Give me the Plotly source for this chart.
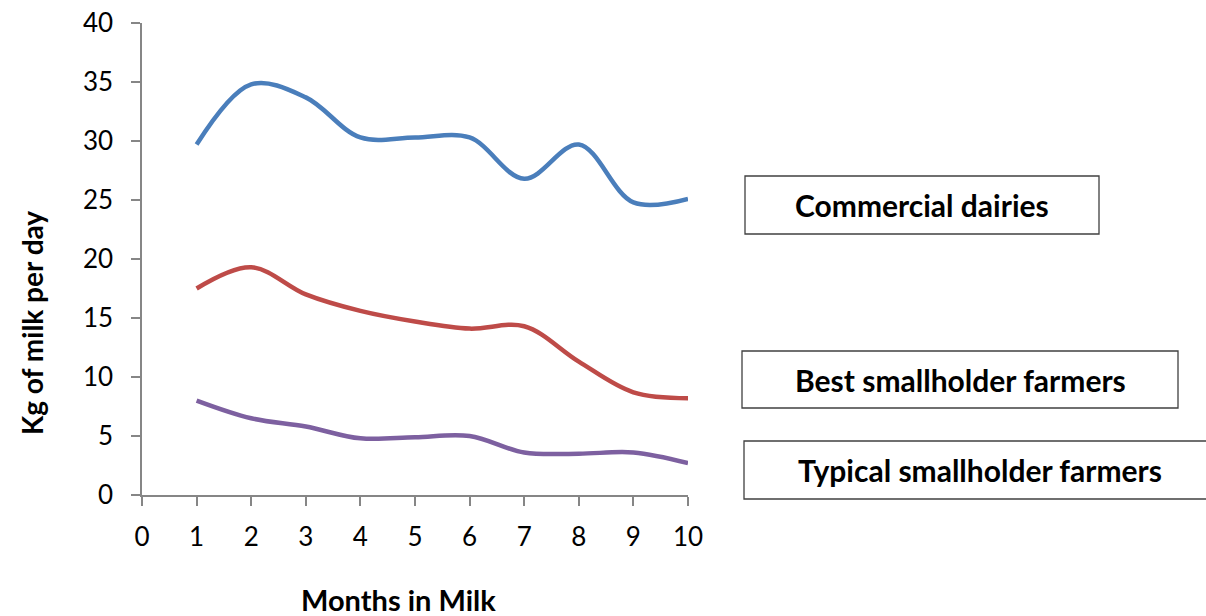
import plotly.graph_objects as go

# Months in milk
months = [1, 2, 3, 4, 5, 6, 7, 8, 9, 10]

# Daily milk yield (kg) per herd type
commercial = [29.7, 34.8, 33.7, 30.3, 30.3, 30.3, 26.8, 29.7, 24.8, 25.1]
best_small = [17.5, 19.3, 17.0, 15.6, 14.7, 14.1, 14.3, 11.3, 8.7, 8.2]
typical_small = [8.0, 6.5, 5.8, 4.8, 4.9, 5.0, 3.6, 3.5, 3.6, 2.7]

series_names = ["Commercial dairies", "Best smallholder farmers", "Typical smallholder farmers"]
series_colors = ["#4A7EBB", "#BE4B48", "#7D60A0"]

x_ticks = list(range(0, 11))
y_ticks = list(range(0, 41, 5))

FONT = "Lato"
AXIS_GREY = "#868686"

fig = go.Figure()
for vals, name, col in zip([commercial, best_small, typical_small], series_names, series_colors):
    fig.add_trace(go.Scatter(
        x=months, y=vals, name=name, mode="lines",
        line=dict(color=col, width=4.5, shape="spline", smoothing=1.0),
        showlegend=False,
    ))

# Plot area geometry in pixels (used to place the label boxes in paper units)
L, R, T, B = 142, 688, 23, 495
W, H = 1206, 616


def px_x(p):
    return (p - L) / (R - L)


def px_y(p):
    return (B - p) / (B - T)


# Label boxes to the right of the plot: (left, right, top, bottom, text centre x)
boxes = [
    (745, 1099, 176, 234, 922),
    (742, 1178, 351, 408, 960),
    (744, 1215, 441, 499, 980),
]
shapes = []
annotations = []
for (x0, x1, y0, y1, cx), name in zip(boxes, series_names):
    shapes.append(dict(
        type="rect", xref="paper", yref="paper",
        x0=px_x(x0), x1=px_x(x1), y0=px_y(y1), y1=px_y(y0),
        line=dict(color="#404040", width=1.3), fillcolor="rgba(0,0,0,0)",
    ))
    annotations.append(dict(
        xref="paper", yref="paper", x=px_x(cx), y=px_y((y0 + y1) / 2),
        text="<b>" + name + "</b>", showarrow=False,
        xanchor="center", yanchor="middle",
        font=dict(family=FONT, size=30, color="black"),
    ))

# Axis titles
annotations.append(dict(
    xref="paper", yref="paper", x=px_x(398), y=px_y(599),
    text="<b>Months in Milk</b>", showarrow=False,
    xanchor="center", yanchor="middle",
    font=dict(family=FONT, size=29, color="black"),
))
annotations.append(dict(
    xref="paper", yref="paper", x=px_x(32), y=px_y(323),
    text="<b>Kg of milk per day</b>", showarrow=False, textangle=-90,
    xanchor="center", yanchor="middle",
    font=dict(family=FONT, size=28, color="black"),
))

fig.update_layout(
    width=W, height=H,
    margin=dict(l=L, r=W - R, t=T, b=H - B, pad=0),
    paper_bgcolor="white", plot_bgcolor="white",
    shapes=shapes, annotations=annotations,
    font=dict(family=FONT, color="black"),
)
fig.update_xaxes(
    range=[0, 10], tickvals=x_ticks, ticktext=[str(v) for v in x_ticks],
    showgrid=False, zeroline=False, automargin=False,
    showline=True, linecolor=AXIS_GREY, linewidth=1.5,
    ticks="outside", ticklen=9, tickwidth=1.5, tickcolor=AXIS_GREY,
    tickfont=dict(family=FONT, size=26, color="black"),
    ticklabelstandoff=9,
)
fig.update_yaxes(
    range=[0, 40], tickvals=y_ticks, ticktext=[str(v) for v in y_ticks],
    showgrid=False, zeroline=False, automargin=False,
    showline=True, linecolor=AXIS_GREY, linewidth=1.5,
    ticks="outside", ticklen=9, tickwidth=1.5, tickcolor=AXIS_GREY,
    tickfont=dict(family=FONT, size=26, color="black"),
    ticklabelstandoff=13,
)

fig.write_html("out.html")
